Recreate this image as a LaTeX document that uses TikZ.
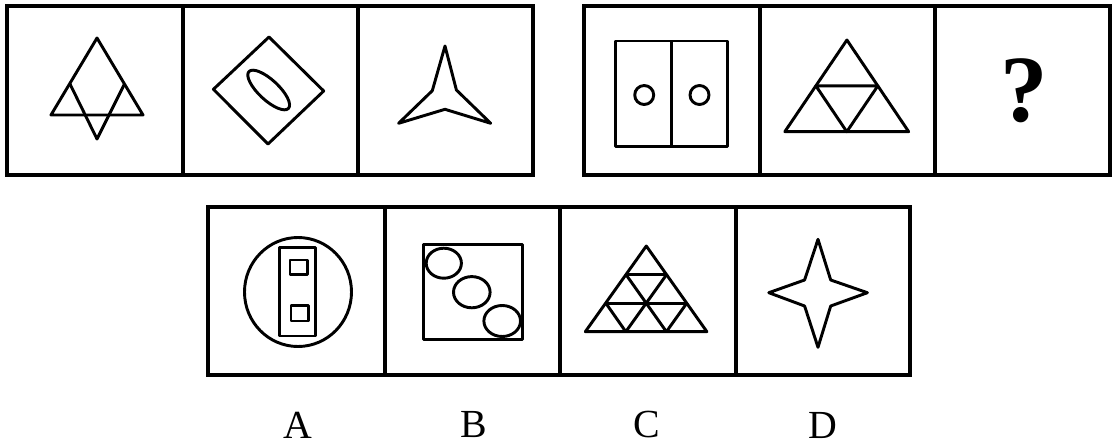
\documentclass[tikz,border=0pt]{standalone}
\usepackage{fontspec}
\setmainfont{Liberation Serif}
\usetikzlibrary{positioning}

\begin{document}
\begin{tikzpicture}[
  x=0.03cm, y=-0.03cm,
  panel/.style={draw, line width=2.9pt, line join=miter},
  figline/.style={draw, line width=2.5pt, line join=round},
  optlabel/.style={font=\fontsize{34}{34}\selectfont, inner sep=0pt},
  qmark/.style={font=\fontsize{81}{81}\selectfont\bfseries, inner sep=0pt},
]
\useasboundingbox (0,0) rectangle (1113,446);

% ===== TOP LEFT: given panels =====
\draw[panel] (7,6) rectangle (533,175);
\draw[panel] (183,6) -- (183,175);
\draw[panel] (358,6) -- (358,175);

% triangle with V
\draw[figline] (97,38) -- (51,115) -- (143,115) -- cycle;
\draw[figline] (70,84) -- (97,139) -- (124.5,84);

% diamond with ellipse
\draw[figline] (269,37) -- (323.7,91) -- (268,144) -- (213.4,89.3) -- cycle;
\draw[figline, rotate around={-43:(268.7,90)}] (268.7,90) ellipse (27 and 10);

% three-pointed star
\draw[figline] (445,46) -- (456.4,90) -- (490.7,123.3) -- (445,109.3)
  -- (398.6,123.3) -- (432.3,90.7) -- cycle;

% ===== TOP RIGHT: given panels =====
\draw[panel] (584,6) rectangle (1110,175);
\draw[panel] (760,6) -- (760,175);
\draw[panel] (935,6) -- (935,175);

% split square with circles
\draw[figline] (615.8,41) rectangle (727.8,146.7);
\draw[figline] (671.5,41) -- (671.5,146.7);
\draw[figline] (644.2,95) circle (9.5);
\draw[figline] (699.5,95) circle (9.5);

% subdivided triangle
\draw[figline] (846.9,40) -- (784.8,131.7) -- (908.7,131.7) -- cycle;
\draw[figline] (815.9,85.9) -- (877.8,85.9) -- (846.8,131.7) -- cycle;

\node[qmark] (ask) at (1024.7,91) {?};

% ===== BOTTOM: options =====
\draw[panel] (208,207) rectangle (910,375);
\draw[panel] (385,207) -- (385,375);
\draw[panel] (560,207) -- (560,375);
\draw[panel] (736,207) -- (736,375);

% A
\draw[figline] (298,292) ellipse (53.5 and 54.5);
\draw[figline] (279.8,247.3) rectangle (315.6,336);
\draw[figline] (290,260) rectangle (307.3,274.7);
\draw[figline] (291,305.7) rectangle (308.3,321);

% B
\draw[figline] (423.5,244.2) rectangle (522.2,339.2);
\draw[figline] (443.8,263.2) ellipse (17.6 and 15);
\draw[figline] (471.8,292.2) ellipse (18.3 and 15.6);
\draw[figline] (502.2,321) ellipse (18.3 and 15.5);

% C
\draw[figline] (646.3,246) -- (585.3,331.7) -- (706.9,331.7) -- cycle;
\draw[figline] (626.0,274.6) -- (666.6,274.6);
\draw[figline] (605.8,303.1) -- (686.8,303.1);
\draw[figline] (625.8,331.7) -- (666.6,274.6);
\draw[figline] (666.4,331.7) -- (686.8,303.1);
\draw[figline] (666.4,331.7) -- (626.0,274.6);
\draw[figline] (625.8,331.7) -- (605.8,303.1);

% D
\draw[figline] (818,239.3) -- (830.7,280) -- (867.4,292.7) -- (830.7,306)
  -- (818,347.3) -- (804.6,306) -- (768.8,292.7) -- (804.6,280) -- cycle;

% option letters
\node[optlabel] (labA) at (298,425) {A};
\node[optlabel] (labB) at (473.5,425) {B};
\node[optlabel] (labC) at (647,425) {C};
\node[optlabel] (labD) at (823,425) {D};

\end{tikzpicture}
\end{document}
